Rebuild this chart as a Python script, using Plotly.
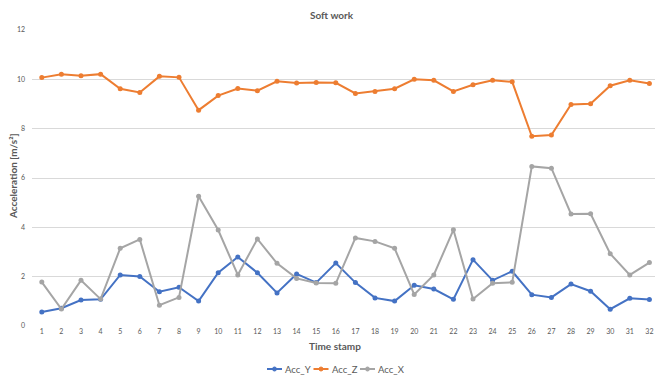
import plotly.graph_objects as go

# Time stamps 1..32
time_stamp = list(range(1, 33))

acc_y = [0.57, 0.72, 1.05, 1.08, 2.07, 2.01, 1.39, 1.57, 1.01, 2.16, 2.80, 2.16, 1.34, 2.11, 1.76, 2.55,
         1.76, 1.14, 1.01, 1.65, 1.50, 1.08, 2.69, 1.85, 2.22, 1.27, 1.16, 1.70, 1.41, 0.68, 1.12, 1.07]
acc_z = [10.07, 10.21, 10.15, 10.21, 9.62, 9.47, 10.12, 10.08, 8.75, 9.34, 9.63, 9.54, 9.92, 9.85, 9.87, 9.86,
         9.43, 9.51, 9.62, 10.00, 9.96, 9.51, 9.78, 9.96, 9.90, 7.69, 7.74, 8.98, 9.01, 9.74, 9.96, 9.83]
acc_x = [1.78, 0.69, 1.85, 1.09, 3.15, 3.51, 0.84, 1.16, 5.26, 3.89, 2.07, 3.53, 2.54, 1.93, 1.74, 1.73,
         3.57, 3.43, 3.15, 1.28, 2.07, 3.90, 1.09, 1.73, 1.77, 6.47, 6.40, 4.54, 4.55, 2.93, 2.07, 2.57]

y_ticks = [0, 2, 4, 6, 8, 10, 12]

series = [("Acc_Y", acc_y, "#4472C4"), ("Acc_Z", acc_z, "#ED7D31"), ("Acc_X", acc_x, "#A5A5A5")]

W, H = 655, 377
ML, MR, MT, MB = 32, 0, 30, 51
PW, PH = W - ML - MR, H - MT - MB


def px(xpix):
    return (xpix - ML) / PW


def py(ypix):
    return 1 - (ypix - MT) / PH


fig = go.Figure()
for name, vals, color in series:
    fig.add_trace(go.Scatter(
        x=time_stamp, y=vals, name=name, mode="lines+markers",
        line=dict(color=color, width=2),
        marker=dict(color=color, size=5, symbol="circle"),
        showlegend=False,
    ))

font_family = "Lato, 'Open Sans', sans-serif"
text_color = "#595959"

# compact legend row under the axis title
shapes, annotations = [], []
legend_y = 369
x0 = 267
for name, _, color in series:
    shapes.append(dict(type="line", xref="paper", yref="paper",
                       x0=px(x0), x1=px(x0 + 15), y0=py(legend_y), y1=py(legend_y),
                       line=dict(color=color, width=2)))
    shapes.append(dict(type="circle", xref="paper", yref="paper",
                       x0=px(x0 + 5.5), x1=px(x0 + 9.5), y0=py(legend_y + 2), y1=py(legend_y - 2),
                       fillcolor=color, line=dict(color=color, width=1)))
    annotations.append(dict(text=name, xref="paper", yref="paper",
                            x=px(x0 + 16), y=py(legend_y), showarrow=False,
                            xanchor="left", yanchor="middle",
                            font=dict(size=9.5, color=text_color)))
    x0 += 46.5

annotations += [
    dict(text="<b>Soft work</b>", xref="paper", yref="paper",
         x=px(332), y=py(15), showarrow=False, xanchor="center", yanchor="middle",
         font=dict(size=10, color=text_color)),
    dict(text="<b>Time stamp</b>", xref="paper", yref="paper",
         x=px(335), y=py(346), showarrow=False, xanchor="center", yanchor="middle",
         font=dict(size=10, color=text_color)),
    dict(text="<b>Acceleration [m/s²]</b>", xref="paper", yref="paper",
         x=px(13), y=py(176), showarrow=False, xanchor="center", yanchor="middle",
         textangle=-90, font=dict(size=10, color=text_color)),
]

fig.update_layout(
    width=W, height=H,
    margin=dict(l=ML, r=MR, t=MT, b=MB, pad=0),
    paper_bgcolor="white", plot_bgcolor="white",
    font=dict(family=font_family, color=text_color),
    showlegend=False,
    xaxis=dict(
        range=[0.5, 0.5 + PW / 19.6],
        tickmode="array", tickvals=time_stamp, ticktext=[str(t) for t in time_stamp],
        tickfont=dict(size=7, color=text_color),
        showgrid=False, zeroline=False, showline=False, ticks="",
    ),
    yaxis=dict(
        range=[0, 12], tickmode="array", tickvals=y_ticks,
        ticktext=[str(v) for v in y_ticks],
        tickfont=dict(size=7, color=text_color),
        showgrid=True, gridcolor="#D9D9D9", gridwidth=1,
        zeroline=False, showline=False, ticks="", ticklabelstandoff=6,
    ),
    shapes=shapes,
    annotations=annotations,
)

fig.write_html("out.html")
